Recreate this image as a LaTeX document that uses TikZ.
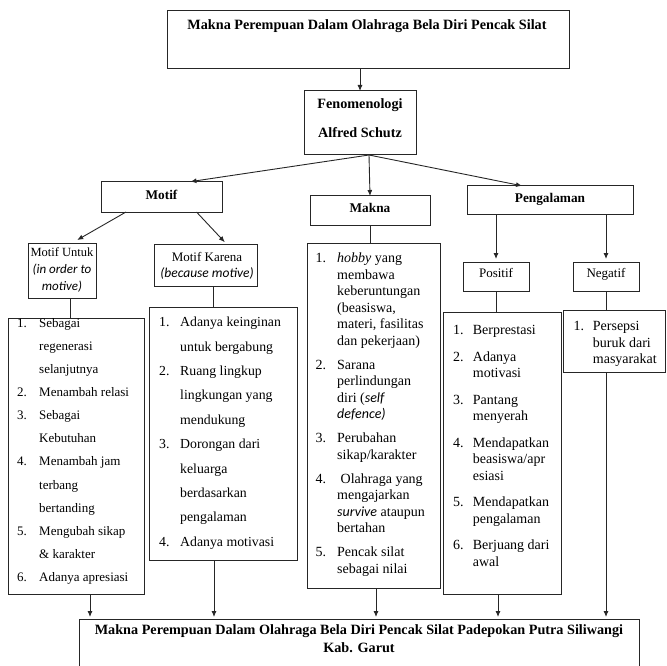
\documentclass[tikz,border=0pt]{standalone}
\usepackage{fontspec}
\setmainfont{Liberation Serif}
\newfontfamily\calib{Carlito}
\usetikzlibrary{arrows.meta,calc}
\newcommand\mybox[5]{\node[box, anchor=north west, minimum width=#4pt-#2pt, minimum height=#5pt-#3pt] (#1) at (#2,#3) {};}
\newcommand\ci[1]{{\calib\itshape #1}}
\begin{document}
\begin{tikzpicture}[x=1pt,y=-1pt,
 box/.style={draw=black!85, line width=1pt, rectangle, inner sep=0pt, outer sep=0pt},
 con/.style={draw=black!85, line width=0.9pt},
 arr/.style={con, -{Latex[length=6pt,width=5pt]}},
 hd/.style={font=\fontsize{14.2}{17}\selectfont\bfseries, anchor=base, inner sep=0pt},
 hs/.style={font=\fontsize{13.3}{16}\selectfont\bfseries, anchor=base, inner sep=0pt},
 rg/.style={font=\fontsize{13}{16}\selectfont, anchor=base, inner sep=0pt},
 it/.style={font=\fontsize{13.5}{16}\selectfont\calib\itshape, anchor=base, inner sep=0pt},
 ls/.style={anchor=base west, inner sep=0pt}]
\useasboundingbox (0,0) rectangle (667,666);
\clip (0,0) rectangle (667,666);

% boxes
\mybox{top}{167}{11}{569}{69}
\mybox{fen}{304}{91}{416}{155}
\mybox{motif}{101}{182}{222}{212}
\mybox{makna}{310}{196}{430}{225}
\mybox{peng}{467}{186}{633}{214}
\mybox{mu}{28}{243}{96}{298}
\mybox{mk}{154}{244}{257}{286}
\mybox{lmu}{8}{318}{144}{594}
\mybox{lmk}{149}{307}{297}{560}
\mybox{lmn}{307}{243}{440}{588}
\mybox{pos}{463}{262}{529}{291}
\mybox{neg}{573}{262}{639}{291}
\mybox{lpos}{443}{312}{561}{594}
\mybox{lneg}{563}{310}{665.5}{372}
\mybox{bot}{79}{619}{639}{690}

% headings
\node[hd] (ttop) at (367,29.7) {Makna Perempuan Dalam Olahraga Bela Diri Pencak Silat};
\node[hd] (tfen1) at (360,109) {Fenomenologi};
\node[hd] (tfen2) at (360,138) {Alfred Schutz};
\node[hs] (tmotif) at (161.5,199.5) {Motif};
\node[hs] (tmakna) at (370,212.5) {Makna};
\node[hs] (tpeng) at (550,202) {Pengalaman};
\node[rg, font=\fontsize{12.5}{16}\selectfont] (tmu1) at (62,256.8) {Motif Untuk};
\node[it, font=\fontsize{13}{16}\selectfont\calib\itshape] (tmu2) at (62,273.2) {(in order to};
\node[it, font=\fontsize{13}{16}\selectfont\calib\itshape] (tmu3) at (62,290.8) {motive)};
\node[rg] (tmk1) at (207,261) {Motif Karena};
\node[it] (tmk2) at (207,277.5) {(because motive)};
\node[rg] (tpos) at (496,277) {Positif};
\node[rg] (tneg) at (606,277) {Negatif};
\node[hd] (tbot1) at (359,634.7) {Makna Perempuan Dalam Olahraga Bela Diri Pencak Silat Padepokan Putra Siliwangi};
\node[hd] (tbot2) at (359,652.4) {Kab. Garut};

% lists
\node[ls, font=\fontsize{13}{23.1}\selectfont] (lmut) at (17,327.3) {\begin{tabular}[t]{@{}p{22pt}@{}l@{}}
1. & Sebagai\\
   & regenerasi\\
   & selanjutnya\\
2. & Menambah relasi\\
3. & Sebagai\\
   & Kebutuhan\\
4. & Menambah jam\\
   & terbang\\
   & bertanding\\
5. & Mengubah sikap\\
   & \& karakter\\
6. & Adanya apresiasi
\end{tabular}};

\node[ls, font=\fontsize{13.8}{24.4}\selectfont] (lmkt) at (159,326.6) {\begin{tabular}[t]{@{}p{21pt}@{}l@{}}
1. & Adanya keinginan\\
   & untuk bergabung\\
2. & Ruang lingkup\\
   & lingkungan yang\\
   & mendukung\\
3. & Dorongan dari\\
   & keluarga\\
   & berdasarkan\\
   & pengalaman\\
4. & Adanya motivasi
\end{tabular}};

\node[ls, font=\fontsize{14}{16.5}\selectfont] (lmnt) at (315.5,262.6) {\begin{tabular}[t]{@{}p{21.5pt}@{}l@{}}
1. & \textit{hobby} yang\\
   & membawa\\
   & keberuntungan\\
   & (beasiswa,\\
   & materi, fasilitas\\
   & dan pekerjaan)\\[7.5pt]
2. & Sarana\\
   & perlindungan\\
   & diri (\ci{self}\\
   & \ci{defence)}\\[7.5pt]
3. & Perubahan\\
   & sikap/karakter\\[7.5pt]
4. & \hspace{3.5pt}Olahraga yang\\
   & mengajarkan\\
   & \ci{survive} ataupun\\
   & bertahan\\[7.5pt]
5. & Pencak silat\\
   & sebagai nilai
\end{tabular}};

\node[ls, font=\fontsize{14}{16.5}\selectfont] (lpost) at (453,334.6) {\begin{tabular}[t]{@{}p{19.7pt}@{}l@{}}
1. & Berprestasi\\[10pt]
2. & Adanya\\
   & motivasi\\[10pt]
3. & Pantang\\
   & menyerah\\[10pt]
4. & Mendapatkan\\
   & beasiswa/apr\\
   & esiasi\\[10pt]
5. & Mendapatkan\\
   & pengalaman\\[10pt]
6. & Berjuang dari\\
   & awal
\end{tabular}};

\node[ls, font=\fontsize{14}{16.5}\selectfont] (lnegt) at (573.3,330.6) {\begin{tabular}[t]{@{}p{19.4pt}@{}l@{}}
1. & Persepsi\\
   & buruk dari\\
   & masyarakat
\end{tabular}};

% connectors
\draw[arr] (fen.north |- top.south) -- (fen.north);
\draw[arr, shorten >=2.5pt] ($(fen.south)+(9,0)$) -- ($(motif.north)+(26.5,0)$);
\draw[arr] ($(fen.south)+(9,0)$) -- (makna.north);
\draw[arr, shorten >=1pt] ($(fen.south)+(9,0)$) -- ($(peng.north)+(-27,0)$);
\draw[arr, shorten >=6pt] ($(motif.south)+(-35.5,0)$) -- ($(mu.north)+(10,0)$);
\draw[arr, shorten >=2.5pt] ($(motif.south)+(35,0)$) -- ($(mk.north)+(21,0)$);
\draw[con] ($(mu.south)+(8,0)$) -- ($(lmu.north)+(-6,0)$);
\draw[con] ($(mk.south)+(7.5,0)$) -- ($(lmk.north)+(-10,0)$);
\draw[con] (makna.south) -- (makna.south |- lmn.north);
\draw[arr, shorten >=3pt] (pos.north |- peng.south) -- (pos.north);
\draw[arr, shorten >=3pt] (neg.north |- peng.south) -- (neg.north);
\draw[con] (pos.south) -- (pos.south |- lpos.north);
\draw[con] (neg.south) -- (neg.south |- lneg.north);
\draw[arr, shorten >=2pt] ($(lmu.south)+(14,0)$) -- ($(bot.north west)+(11,0)$);
\draw[arr, shorten >=2pt] ($(lmk.south)+(-9,0)$) -- ($(bot.north west)+(135,0)$);
\draw[arr, shorten >=2pt] ($(lmn.south)+(2.5,0)$) -- ($(bot.north west)+(297,0)$);
\draw[arr, shorten >=2pt] ($(lpos.south)+(-4,0)$) -- ($(bot.north west)+(419,0)$);
\draw[arr, shorten >=2pt] (neg.south |- lneg.south) -- ($(bot.north west)+(527,0)$);
\end{tikzpicture}
\end{document}
